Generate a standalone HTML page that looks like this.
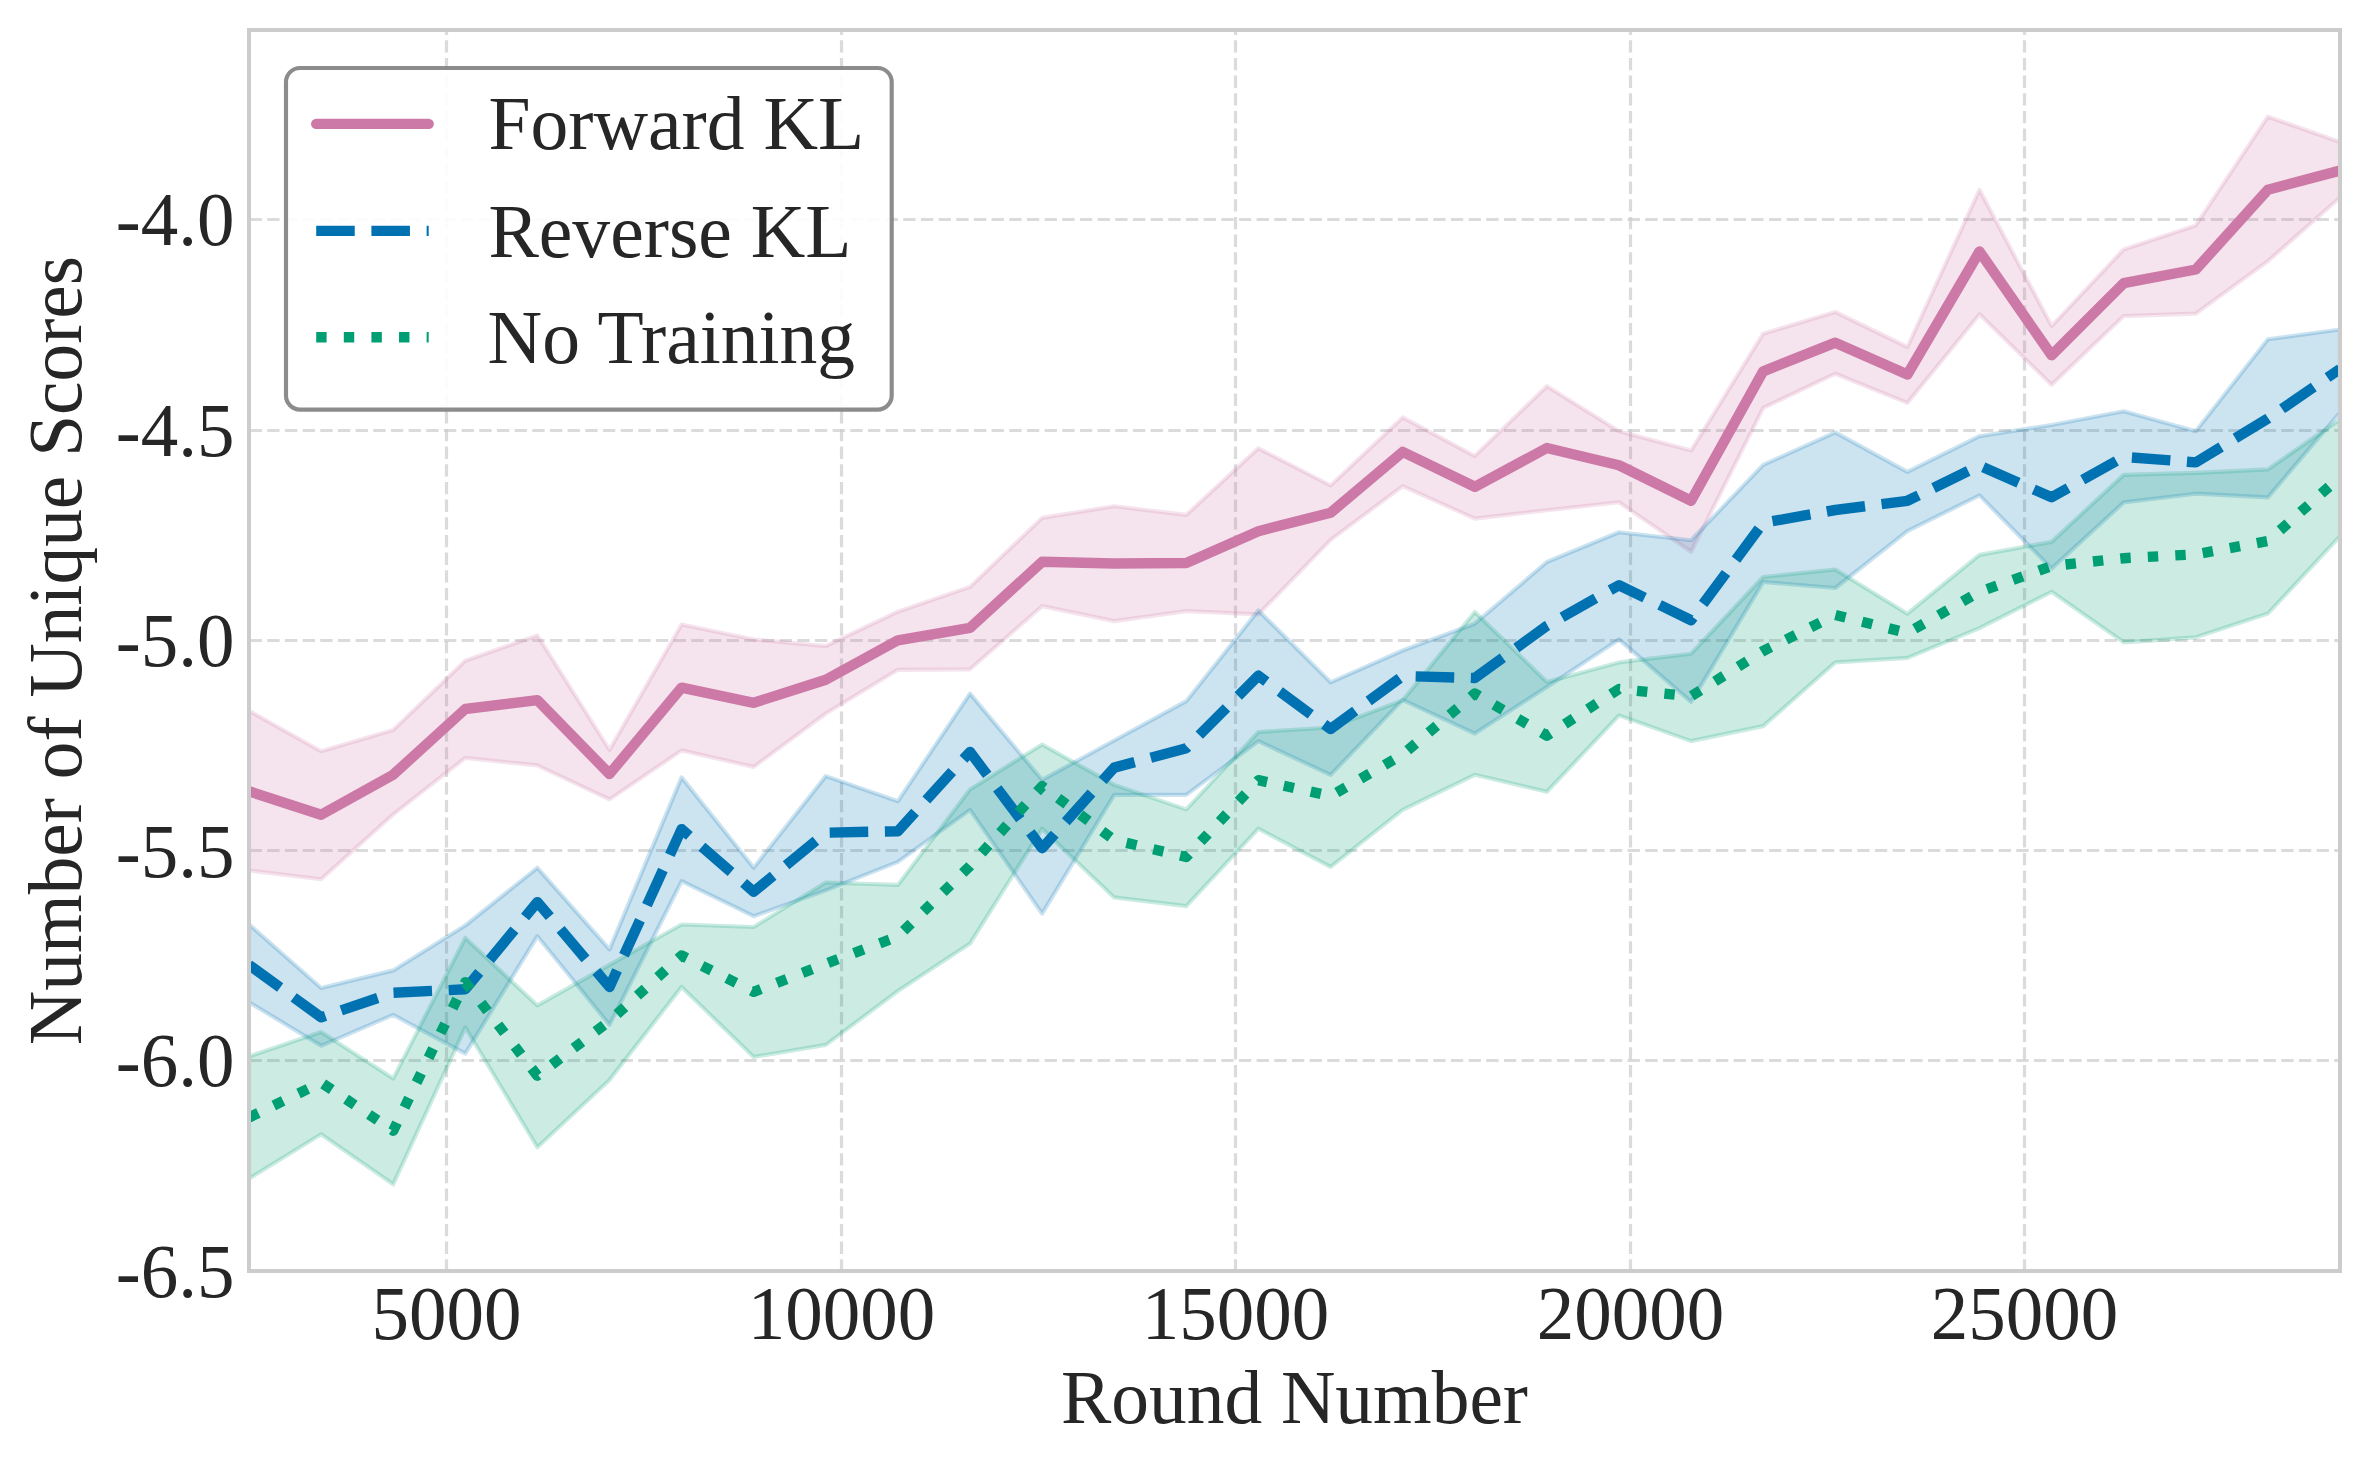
<!DOCTYPE html>
<html><head><meta charset="utf-8"><title>chart</title>
<style>html,body{margin:0;padding:0;background:#fff;}svg{display:block;}text{font-family:"Liberation Serif",serif;font-size:75px;fill:#262626;}</style>
</head><body>
<svg width="2370" height="1470" viewBox="0 0 2370 1470">
<rect x="0" y="0" width="2370" height="1470" fill="#ffffff"/>
<defs><clipPath id="ax"><rect x="249.0" y="30.0" width="2091.0" height="1241.0"/></clipPath></defs>
<g stroke="#cccccc" stroke-opacity="0.7" stroke-width="3.2" stroke-dasharray="12.3333 5.3333" fill="none">
<line x1="446.5" y1="1271.6" x2="446.5" y2="30.0"/>
<line x1="841.5" y1="1271.6" x2="841.5" y2="30.0"/>
<line x1="1235.5" y1="1271.6" x2="1235.5" y2="30.0"/>
<line x1="1630.5" y1="1271.6" x2="1630.5" y2="30.0"/>
<line x1="2024.5" y1="1271.6" x2="2024.5" y2="30.0"/>
<line x1="249.6" y1="219.5" x2="2340.0" y2="219.5"/>
<line x1="249.6" y1="430.5" x2="2340.0" y2="430.5"/>
<line x1="249.6" y1="640.5" x2="2340.0" y2="640.5"/>
<line x1="249.6" y1="850.5" x2="2340.0" y2="850.5"/>
<line x1="249.6" y1="1060.5" x2="2340.0" y2="1060.5"/>
<line x1="249.6" y1="1270.5" x2="2340.0" y2="1270.5"/>
</g>
<g clip-path="url(#ax)">
<polygon points="249.0,710.8 321.1,751.2 393.2,729.9 465.3,660.7 537.4,635.5 609.5,749.9 681.6,624.5 753.7,639.5 825.8,646.1 897.9,611.7 970.0,586.9 1042.1,517.9 1114.2,506.2 1186.3,514.9 1258.4,448.3 1330.6,485.5 1402.7,417.4 1474.8,456.1 1546.9,386.2 1619.0,431.2 1691.1,450.6 1763.2,333.7 1835.3,312.0 1907.4,347.0 1979.5,189.9 2051.6,326.1 2123.7,249.4 2195.8,225.4 2267.9,116.7 2340.0,142.0 2340.0,197.5 2267.9,261.1 2195.8,313.6 2123.7,316.1 2051.6,384.8 1979.5,314.3 1907.4,402.9 1835.3,373.7 1763.2,407.9 1691.1,551.8 1619.0,502.3 1546.9,510.3 1474.8,518.6 1402.7,486.1 1330.6,539.9 1258.4,614.4 1186.3,611.1 1114.2,621.1 1042.1,606.1 970.0,669.3 897.9,669.8 825.8,713.5 753.7,766.9 681.6,750.4 609.5,799.4 537.4,765.4 465.3,757.9 393.2,814.4 321.1,879.3 249.0,870.5" fill="#CC79A7" fill-opacity="0.2" stroke="#CC79A7" stroke-opacity="0.2" stroke-width="4.17" stroke-linejoin="round"/>
<polygon points="249.0,924.3 321.1,988.0 393.2,970.4 465.3,925.5 537.4,867.8 609.5,949.4 681.6,777.4 753.7,867.8 825.8,776.1 897.9,801.2 970.0,693.6 1042.1,779.9 1114.2,740.5 1186.3,701.2 1258.4,610.4 1330.6,682.3 1402.7,650.5 1474.8,623.7 1546.9,562.0 1619.0,532.3 1691.1,540.3 1763.2,464.9 1835.3,432.4 1907.4,471.9 1979.5,436.2 2051.6,425.0 2123.7,411.2 2195.8,431.2 2267.9,339.3 2340.0,329.5 2340.0,412.5 2267.9,497.4 2195.8,493.7 2123.7,502.4 2051.6,568.6 1979.5,495.4 1907.4,531.1 1835.3,588.0 1763.2,582.0 1691.1,701.9 1619.0,639.4 1546.9,686.9 1474.8,733.6 1402.7,699.9 1330.6,774.9 1258.4,741.2 1186.3,794.9 1114.2,794.9 1042.1,913.6 970.0,809.9 897.9,861.9 825.8,890.4 753.7,916.2 681.6,881.2 609.5,1024.9 537.4,936.2 465.3,1053.6 393.2,1014.9 321.1,1045.8 249.0,1002.2" fill="#0072B2" fill-opacity="0.2" stroke="#0072B2" stroke-opacity="0.2" stroke-width="4.17" stroke-linejoin="round"/>
<polygon points="249.0,1056.5 321.1,1032.0 393.2,1078.6 465.3,938.0 537.4,1005.4 609.5,964.9 681.6,924.5 753.7,927.0 825.8,882.5 897.9,884.9 970.0,789.4 1042.1,744.5 1114.2,784.9 1186.3,809.4 1258.4,732.0 1330.6,727.5 1402.7,700.4 1474.8,612.0 1546.9,681.9 1619.0,662.4 1691.1,653.7 1763.2,577.0 1835.3,569.5 1907.4,613.7 1979.5,554.9 2051.6,541.9 2123.7,474.9 2195.8,472.9 2267.9,469.4 2340.0,419.5 2340.0,536.1 2267.9,613.6 2195.8,637.3 2123.7,642.3 2051.6,591.8 1979.5,628.1 1907.4,657.9 1835.3,662.4 1763.2,726.1 1691.1,741.1 1619.0,715.4 1546.9,791.8 1474.8,774.8 1402.7,809.8 1330.6,866.9 1258.4,828.7 1186.3,906.1 1114.2,897.4 1042.1,828.7 970.0,943.6 897.9,991.0 825.8,1044.9 753.7,1056.9 681.6,986.9 609.5,1079.9 537.4,1147.3 465.3,1027.4 393.2,1184.3 321.1,1134.3 249.0,1178.7" fill="#009E73" fill-opacity="0.2" stroke="#009E73" stroke-opacity="0.2" stroke-width="4.17" stroke-linejoin="round"/>
<polyline points="249.0,791.3 321.1,814.8 393.2,774.7 465.3,709.0 537.4,700.2 609.5,774.0 681.6,687.7 753.7,702.8 825.8,679.7 897.9,640.3 970.0,627.8 1042.1,561.8 1114.2,563.5 1186.3,563.0 1258.4,531.2 1330.6,512.8 1402.7,451.9 1474.8,486.8 1546.9,448.0 1619.0,465.3 1691.1,500.7 1763.2,371.3 1835.3,342.7 1907.4,374.5 1979.5,251.5 2051.6,355.2 2123.7,283.2 2195.8,269.5 2267.9,189.7 2340.0,170.5" fill="none" stroke="#CC79A7" stroke-width="10.417" stroke-linejoin="round" stroke-linecap="round"/>
<polyline points="249.0,964.9 321.1,1017.3 393.2,992.7 465.3,989.3 537.4,902.1 609.5,987.0 681.6,829.1 753.7,891.7 825.8,832.7 897.9,831.2 970.0,751.9 1042.1,848.2 1114.2,767.6 1186.3,748.2 1258.4,675.7 1330.6,729.0 1402.7,676.0 1474.8,678.0 1546.9,625.8 1619.0,585.2 1691.1,620.2 1763.2,522.8 1835.3,510.0 1907.4,500.8 1979.5,465.5 2051.6,497.3 2123.7,456.8 2195.8,462.4 2267.9,418.5 2340.0,369.0" fill="none" stroke="#0072B2" stroke-width="10.417" stroke-linejoin="round" stroke-linecap="butt" stroke-dasharray="38.54 16.67"/>
<polyline points="249.0,1117.5 321.1,1082.5 393.2,1130.7 465.3,982.2 537.4,1075.7 609.5,1021.0 681.6,955.5 753.7,991.8 825.8,963.8 897.9,936.5 970.0,866.0 1042.1,786.2 1114.2,840.0 1186.3,857.0 1258.4,780.2 1330.6,796.0 1402.7,754.5 1474.8,693.5 1546.9,735.7 1619.0,689.0 1691.1,696.3 1763.2,651.0 1835.3,615.0 1907.4,633.0 1979.5,591.8 2051.6,566.0 2123.7,558.2 2195.8,554.3 2267.9,541.1 2340.0,477.0" fill="none" stroke="#009E73" stroke-width="10.417" stroke-linejoin="round" stroke-linecap="butt" stroke-dasharray="10.417 17.12"/>
</g>
<rect x="249.0" y="30.0" width="2091.0" height="1241.0" fill="none" stroke="#cccccc" stroke-width="4.0"/>
<text transform="translate(446.5,1338.8) scale(1,1.02)" text-anchor="middle">5000</text>
<text transform="translate(841.5,1338.8) scale(1,1.02)" text-anchor="middle">10000</text>
<text transform="translate(1235.5,1338.8) scale(1,1.02)" text-anchor="middle">15000</text>
<text transform="translate(1630.5,1338.8) scale(1,1.02)" text-anchor="middle">20000</text>
<text transform="translate(2024.5,1338.8) scale(1,1.02)" text-anchor="middle">25000</text>
<text transform="translate(234.5,245.0) scale(1,1.02)" text-anchor="end">-4.0</text>
<text transform="translate(234.5,456.0) scale(1,1.02)" text-anchor="end">-4.5</text>
<text transform="translate(234.5,666.2) scale(1,1.02)" text-anchor="end">-5.0</text>
<text transform="translate(234.5,876.9) scale(1,1.02)" text-anchor="end">-5.5</text>
<text transform="translate(234.5,1086.2) scale(1,1.02)" text-anchor="end">-6.0</text>
<text transform="translate(234.5,1297.4) scale(1,1.02)" text-anchor="end">-6.5</text>
<text x="1294.5" y="1423.2" text-anchor="middle" style="font-size:75.4px">Round Number</text>
<text transform="translate(80.6,650.5) rotate(-90)" text-anchor="middle" style="font-size:75.4px">Number of Unique Scores</text>
<rect x="286.0" y="68.0" width="605.7" height="341.6" rx="14" ry="14" fill="#ffffff" fill-opacity="0.9" stroke="#808080" stroke-opacity="0.9" stroke-width="4.17"/>
<line x1="316.2" y1="123.9" x2="428.7" y2="123.9" stroke="#CC79A7" stroke-width="10.417" stroke-linecap="round"/>
<line x1="316.2" y1="230.9" x2="428.7" y2="230.9" stroke="#0072B2" stroke-width="10.417" stroke-dasharray="38.54 16.67"/>
<line x1="316.2" y1="337.2" x2="428.7" y2="337.2" stroke="#009E73" stroke-width="10.417" stroke-dasharray="10.417 17.19"/>
<text x="488.4" y="149.0" style="font-size:75.6px">Forward KL</text>
<text x="488.4" y="257.0" style="font-size:75.6px">Reverse KL</text>
<text x="487.6" y="363.2" style="font-size:75.6px">No Training</text>
</svg></body></html>
